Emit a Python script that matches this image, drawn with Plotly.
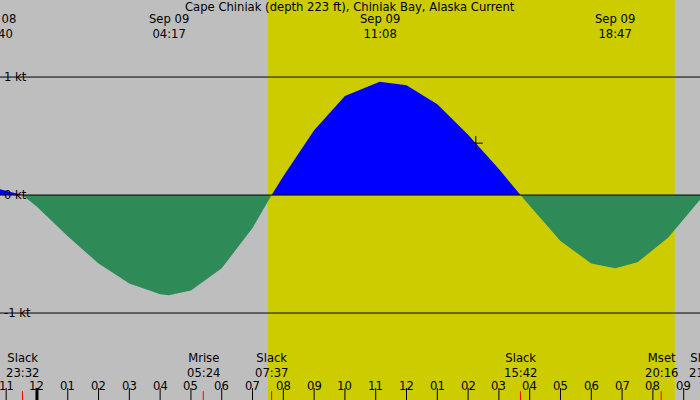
import plotly.graph_objects as go

# hours counted from Sep 08 00:00
curve_hours = [22.80, 23.53, 24.0, 25.0, 26.0, 27.0, 28.0, 28.28, 29.0, 30.0, 31.0, 31.62,
               32.0, 33.0, 34.0, 35.13, 36.0, 37.0, 38.0, 39.0, 39.70,
               40.0, 41.0, 42.0, 42.78, 43.5, 44.5, 45.53]
curve_kt = [0.05, 0.0, -0.10, -0.35, -0.58, -0.75, -0.84, -0.85, -0.81, -0.62, -0.28, 0.0,
            0.16, 0.55, 0.84, 0.96, 0.93, 0.77, 0.51, 0.22, 0.0,
            -0.09, -0.39, -0.58, -0.62, -0.57, -0.36, -0.04]

day_start, day_end = 31.5, 44.71
now_hour, now_kt = 38.25, 0.44

peak_hours = [22.67, 28.28, 35.13, 42.78]
peak_labels = ["Sep 08<br>22:40", "Sep 09<br>04:17", "Sep 09<br>11:08", "Sep 09<br>18:47"]

event_hours = [23.53, 29.40, 31.62, 39.70, 44.27, 45.70]
event_labels = ["Slack<br>23:32", "Mrise<br>05:24", "Slack<br>07:37", "Slack<br>15:42",
                "Mset<br>20:16", "Slack<br>21:42"]

tick_hours = list(range(23, 46))
tick_labels = ["%02d" % (((h - 1) % 12) + 1) for h in tick_hours]

x_range = [22.80, 45.53]
y_range = [-1.737, 1.653]
px_per_hour = 30.8

pos = [max(v, 0) for v in curve_kt]
neg = [min(v, 0) for v in curve_kt]

fig = go.Figure()
fig.add_trace(go.Scatter(x=curve_hours, y=neg, mode="lines", line=dict(width=0),
                         fill="tozeroy", fillcolor="#2e8b57", hoverinfo="skip"))
fig.add_trace(go.Scatter(x=curve_hours, y=pos, mode="lines", line=dict(width=0),
                         fill="tozeroy", fillcolor="#0000ff", hoverinfo="skip"))
fig.add_trace(go.Scatter(x=[now_hour], y=[now_kt], mode="markers",
                         marker=dict(symbol="cross-thin", size=10, line=dict(color="black", width=1))))

shapes = [dict(type="rect", xref="x", yref="paper", x0=day_start, x1=day_end, y0=0, y1=1,
               fillcolor="#cccc00", line_width=0, layer="below")]
for lv in [1, 0, -1]:
    shapes.append(dict(type="line", xref="paper", yref="y", x0=0, x1=1, y0=lv, y1=lv,
                       line=dict(color="black", width=1)))
for h in tick_hours:
    shapes.append(dict(type="line", xref="x", yref="paper", x0=h, x1=h, y0=0, y1=0.03,
                       line=dict(color="black", width=3 if h == 24 else 1)))
for h in event_hours:
    shapes.append(dict(type="line", xref="x", yref="paper", x0=h, x1=h, y0=0, y1=0.022,
                       line=dict(color="red", width=1)))

font = dict(family="DejaVu Sans", size=11.6, color="black")
ann = [dict(x=0.5, y=1, xref="paper", yref="paper", yanchor="top",
            text="Cape Chiniak (depth 223 ft), Chiniak Bay, Alaska Current",
            showarrow=False, font=font, yshift=2)]
for h, t in zip(peak_hours, peak_labels):
    ann.append(dict(x=max(h, x_range[0]), xshift=(h - x_range[0]) * px_per_hour if h < x_range[0] else 0,
                    y=1, xref="x", yref="paper", yanchor="top", text=t, showarrow=False, font=font, yshift=-10))
for h, t in zip(event_hours, event_labels):
    ann.append(dict(x=min(h, x_range[1]), xshift=(h - x_range[1]) * px_per_hour if h > x_range[1] else 0,
                    y=0, xref="x", yref="paper", yanchor="bottom", text=t, showarrow=False, font=font, yshift=18))
for h, t in zip(tick_hours, tick_labels):
    ann.append(dict(x=h, y=0, xref="x", yref="paper", yanchor="bottom", text=t, showarrow=False, font=font, yshift=5))
for lv, t in [(1, "1 kt"), (0, "0 kt"), (-1, "-1 kt")]:
    ann.append(dict(x=0, y=lv, xref="paper", yref="y", xanchor="left", text=t, showarrow=False, font=font, xshift=2))

fig.update_layout(width=700, height=400, margin=dict(l=0, r=0, t=0, b=0),
                  paper_bgcolor="#bebebe", plot_bgcolor="#bebebe", showlegend=False,
                  shapes=shapes, annotations=ann,
                  xaxis=dict(range=x_range, visible=False),
                  yaxis=dict(range=y_range, visible=False))
fig.write_html("out.html", config={"displayModeBar": False},
               post_script="document.body.style.margin='0';")
